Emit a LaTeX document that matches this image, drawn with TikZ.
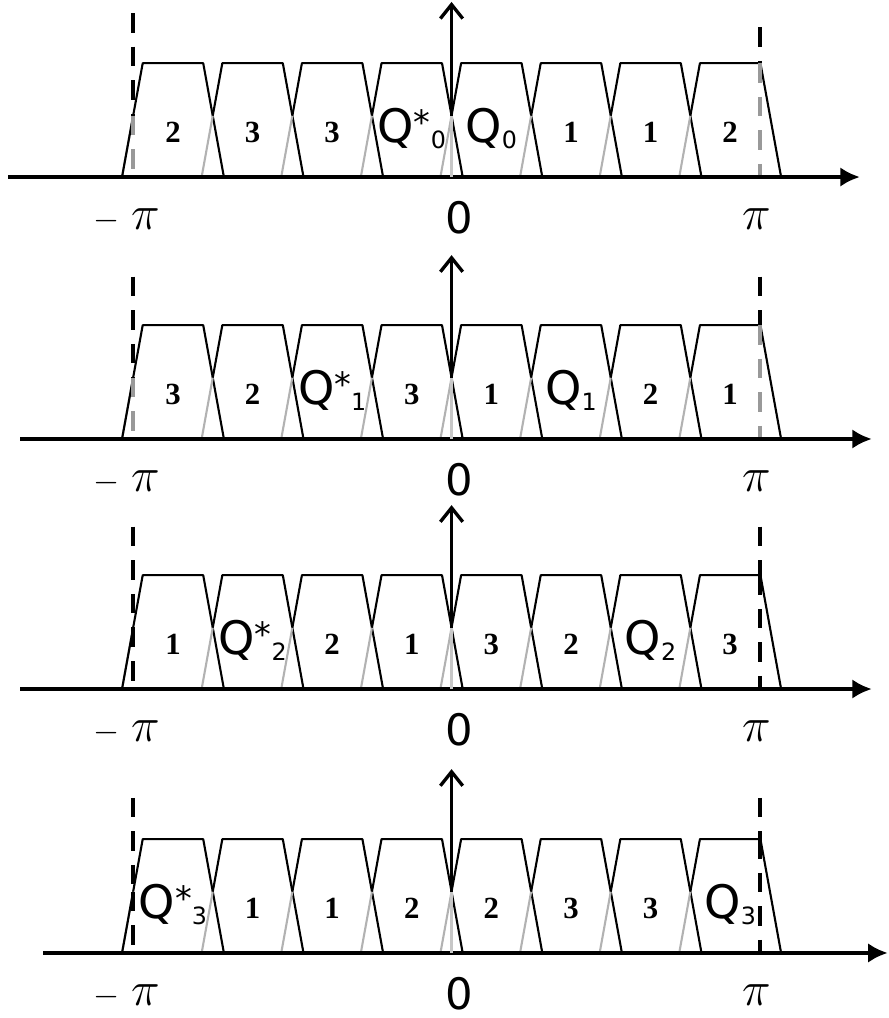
\documentclass[tikz,border=0pt]{standalone}
\usepackage{fontspec}
\usetikzlibrary{arrows.meta}
\newfontfamily\qfont{DejaVu Sans}
\newfontfamily\numfont{Liberation Serif}
\newcommand{\qconj}[1]{{\qfont\mdseries\fontsize{16.5}{18}\selectfont Q\raisebox{3pt}{\fontsize{12}{12}\selectfont*}\raisebox{-2pt}{\fontsize{8.5}{8.5}\selectfont #1}}}
\newcommand{\qlab}[1]{{\qfont\mdseries\fontsize{16.5}{18}\selectfont Q\raisebox{-2pt}{\fontsize{8.5}{8.5}\selectfont #1}}}
\tikzset{
  trap/.style={line width=0.75pt},
  trapback/.style={line width=0.75pt,black!30},
  axisline/.style={line width=1.7pt,-{Latex[length=7pt,width=7pt]}},
  vaxis/.style={line width=1.2pt,-{Straight Barb[length=5pt,width=8pt]}},
  piline/.style={line width=1.4pt,dash pattern=on 7pt off 5pt},
  num/.style={anchor=base,font=\numfont\bfseries\fontsize{11}{13}\selectfont},
  ticklab/.style={anchor=base,font=\fontsize{18}{20}\selectfont}
}
\begin{document}
\begin{tikzpicture}[line join=round,>=stealth]
\useasboundingbox (-5.673,-12.789) rectangle (5.495,0);
% one panel per row: axis height, axis ends, arrow top, dash tops, lower dash colour, labels
\foreach \py/\xl/\xr/\vt/\dl/\dr/\dcol/\labs [count=\k] in {
  -2.224/-5.57/5.13/2.20/2.06/1.88/black!40/{2,3,3,\qconj{0},\qlab{0},1,1,2},
  -5.515/-5.42/5.28/2.31/2.04/2.04/black!40/{3,2,\qconj{1},3,1,\qlab{1},2,1},
  -8.656/-5.42/5.28/2.31/2.04/2.04/black/{1,\qconj{2},2,1,3,2,\qlab{2},3},
  -11.972/-5.13/5.48/2.31/1.95/1.95/black/{\qconj{3},1,1,2,2,3,3,\qlab{3}}}{
\begin{scope}[shift={(0,\py)}]
  % trapezoids
  \foreach \c in {-3.5,-2.5,...,3.5}{
    \draw[trapback] (\c-0.64,0) -- (\c-0.5,0.772);
    \draw[trap] (\c-0.5,0.772) -- (\c-0.38,1.43) -- (\c+0.38,1.43) -- (\c+0.64,0);
  }
  \draw[trap] (-4.14,0) -- (-4,0.772);
  % -pi and pi
  \draw[piline] (-4,\dl) -- (-4,0.772);
  \draw[piline,draw=\dcol] (-4,0.772) -- (-4,0);
  \draw[piline] (3.87,\dr) -- (3.87,1.43);
  \draw[piline,draw=\dcol] (3.87,1.43) -- (3.87,0);
  % axes
  \draw[axisline] (\xl,0) -- (\xr,0);
  \draw[line width=1.2pt,black!22] (0,0) -- (0,0.772);
  \draw[vaxis] (0,0.772) -- (0,\vt);
  % labels
  \foreach \t [count=\i] in \labs
    \node[num] (b\k\i) at (\i-4.5,0.43) {\t};
  \node[ticklab] (mpi\k) at (-4.08,-0.66) {{\fontsize{13}{13}\selectfont$-$}\hspace{4pt}$\pi$};
  \node[ticklab,font=\qfont\fontsize{15.5}{17}\selectfont] (zero\k) at (0.094,-0.71) {0};
  \node[ticklab] (pi\k) at (3.84,-0.66) {$\pi$};
\end{scope}
}
\end{tikzpicture}
\end{document}
